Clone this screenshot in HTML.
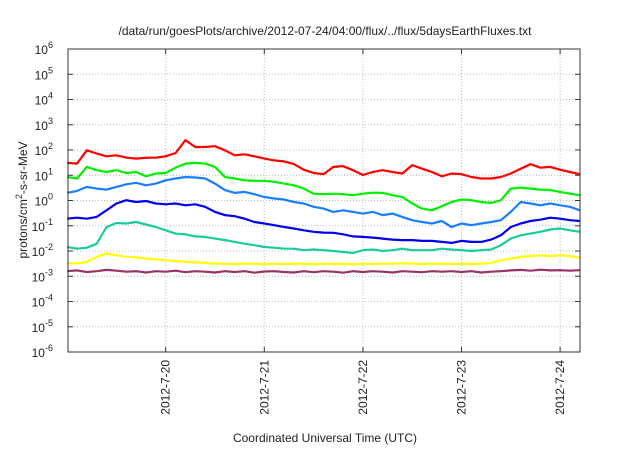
<!DOCTYPE html>
<html><head><meta charset="utf-8"><style>
body{margin:0;background:#fff}
svg text{font-family:"Liberation Sans",sans-serif;fill:#222}
</style></head><body>
<svg id="chart" width="640" height="448" viewBox="0 0 640 448" xmlns="http://www.w3.org/2000/svg">
<rect width="640" height="448" fill="#fff"/>
<text x="325" y="35" font-size="12" text-anchor="middle">/data/run/goesPlots/archive/2012-07-24/04:00/flux/../flux/5daysEarthFluxes.txt</text>
<text transform="translate(27,200) rotate(-90)" font-size="12" text-anchor="middle">protons/cm<tspan dy="-5" font-size="9">2</tspan><tspan dy="5">-s-sr-MeV</tspan></text>
<text x="325" y="442" font-size="12" text-anchor="middle">Coordinated Universal Time (UTC)</text>
<g id="grid"></g><g id="series"></g><g id="axes"></g>
</svg>
<script>
const times=[];for(let i=0;i<=52;i++)times.push(i/10);
const yExps=[-6,-5,-4,-3,-2,-1,0,1,2,3,4,5,6];
const dayTicks=[1,2,3,4,5];
const dayLabels=["2012-7-20","2012-7-21","2012-7-22","2012-7-23","2012-7-24"];
const seriesNames=["red","green","lightblue","blue","teal","yellow","purple"];
const seriesColors=["#ff0000","#00f000","#1a7fff","#0000ee","#19cc9c","#ffff00","#993366"];
const red=[1.49,1.46,1.99,1.86,1.75,1.79,1.70,1.66,1.69,1.70,1.75,1.88,2.39,2.12,2.12,2.15,1.99,1.79,1.83,1.75,1.66,1.59,1.55,1.44,1.22,1.09,1.04,1.33,1.36,1.20,1.01,1.13,1.20,1.13,1.07,1.40,1.26,1.13,0.96,1.07,1.04,0.93,0.87,0.87,0.93,1.07,1.26,1.44,1.30,1.33,1.22,1.13,1.04];
const green=[0.93,0.87,1.33,1.20,1.13,1.20,1.09,1.13,0.96,1.07,1.09,1.30,1.46,1.49,1.46,1.33,0.93,0.87,0.80,0.78,0.78,0.74,0.67,0.60,0.47,0.27,0.25,0.27,0.25,0.21,0.27,0.31,0.30,0.21,0.14,-0.12,-0.32,-0.39,-0.23,-0.06,0.04,0.01,-0.06,-0.10,0.01,0.47,0.51,0.47,0.43,0.41,0.34,0.27,0.21];
const lightblue=[0.30,0.38,0.54,0.47,0.43,0.54,0.64,0.70,0.60,0.67,0.80,0.87,0.93,0.91,0.87,0.67,0.41,0.30,0.34,0.25,0.14,0.08,0.04,-0.06,-0.12,-0.25,-0.32,-0.45,-0.39,-0.45,-0.52,-0.45,-0.58,-0.52,-0.65,-0.78,-0.85,-0.91,-0.81,-1.05,-0.91,-0.98,-0.91,-0.85,-0.78,-0.45,-0.06,-0.12,-0.19,-0.12,-0.19,-0.25,-0.39];
const blue=[-0.72,-0.68,-0.72,-0.65,-0.39,-0.12,0.01,-0.06,-0.02,-0.12,-0.15,-0.12,-0.19,-0.15,-0.25,-0.45,-0.58,-0.62,-0.72,-0.85,-0.91,-0.98,-1.05,-1.11,-1.18,-1.24,-1.27,-1.28,-1.34,-1.42,-1.44,-1.47,-1.51,-1.55,-1.57,-1.57,-1.60,-1.60,-1.64,-1.68,-1.60,-1.64,-1.64,-1.55,-1.38,-1.05,-0.91,-0.81,-0.76,-0.68,-0.72,-0.78,-0.81];
const teal=[-1.84,-1.91,-1.87,-1.71,-1.05,-0.89,-0.91,-0.85,-0.95,-1.05,-1.18,-1.31,-1.34,-1.42,-1.44,-1.51,-1.57,-1.64,-1.71,-1.77,-1.84,-1.87,-1.91,-1.91,-1.97,-1.94,-1.97,-2.00,-2.04,-2.08,-1.97,-1.94,-2.00,-1.97,-1.91,-1.97,-1.97,-1.97,-1.91,-1.94,-1.97,-2.00,-1.97,-1.94,-1.77,-1.51,-1.38,-1.31,-1.24,-1.15,-1.11,-1.18,-1.24];
const yellow=[-2.47,-2.50,-2.43,-2.23,-2.10,-2.17,-2.23,-2.25,-2.30,-2.33,-2.37,-2.40,-2.43,-2.45,-2.47,-2.50,-2.50,-2.52,-2.50,-2.50,-2.53,-2.50,-2.52,-2.50,-2.50,-2.53,-2.50,-2.52,-2.50,-2.53,-2.50,-2.52,-2.50,-2.50,-2.48,-2.50,-2.52,-2.50,-2.50,-2.52,-2.50,-2.52,-2.50,-2.48,-2.37,-2.30,-2.23,-2.20,-2.17,-2.20,-2.17,-2.20,-2.27];
const purple=[-2.80,-2.77,-2.83,-2.80,-2.75,-2.78,-2.82,-2.80,-2.85,-2.80,-2.82,-2.78,-2.84,-2.80,-2.82,-2.85,-2.80,-2.83,-2.80,-2.86,-2.81,-2.80,-2.83,-2.85,-2.80,-2.84,-2.80,-2.82,-2.86,-2.80,-2.83,-2.80,-2.82,-2.85,-2.80,-2.82,-2.84,-2.80,-2.82,-2.80,-2.83,-2.80,-2.85,-2.82,-2.80,-2.77,-2.75,-2.78,-2.74,-2.77,-2.76,-2.78,-2.76];
const allSeries=[red,green,lightblue,blue,teal,yellow,purple];

const L=68,R=580,T=49,B=352,X0=67.1,PXD=98.6;
const xs=d=>X0+PXD*d;
const ys=v=>B-(v+6)*(B-T)/12;
const NS="http://www.w3.org/2000/svg";
function mk(tag,attrs,parent){const e=document.createElementNS(NS,tag);for(const k in attrs)e.setAttribute(k,attrs[k]);parent.appendChild(e);return e;}
const grid=document.getElementById('grid'),ser=document.getElementById('series'),axes=document.getElementById('axes');
yExps.forEach(e=>{const y=ys(e);
 if(e>-6&&e<6){const g=mk('line',{x1:L,x2:R,y1:y,y2:y,stroke:'#bbb','stroke-dasharray':'1,2','stroke-width':1},grid);
 
 
 mk('line',{x1:L,x2:L+5,y1:y,y2:y,stroke:'#333'},axes);mk('line',{x1:R-5,x2:R,y1:y,y2:y,stroke:'#333'},axes);}
 const t=mk('text',{x:L-15,y:y+5,'font-size':12,'text-anchor':'end'},axes);
 
 
 t.textContent='10';const s=mk('tspan',{dy:-6,'font-size':9},t);s.textContent=String(e);
});
dayTicks.forEach((d,i)=>{const x=xs(d);
 const g=mk('line',{x1:x,x2:x,y1:T,y2:B,stroke:'#bbb','stroke-dasharray':'1,2','stroke-width':1},grid);
 
 
 mk('line',{x1:x,x2:x,y1:B-5,y2:B,stroke:'#333'},axes);mk('line',{x1:x,x2:x,y1:T,y2:T+5,stroke:'#333'},axes);
 const t=mk('text',{transform:`translate(${x+4},${B+8}) rotate(-90)`,'font-size':12,'text-anchor':'end'},axes);
 
 
 t.textContent=dayLabels[i];
});
allSeries.forEach((arr,si)=>{
 const pts=arr.map((v,i)=>xs(Math.min(times[i],5.2)).toFixed(1)+','+ys(v).toFixed(1)).join(' ');
 const p=mk('polyline',{points:pts,fill:'none',stroke:seriesColors[si],'stroke-width':2.2,'stroke-linejoin':'round'},ser);
 
 
});
const fr=mk('rect',{x:L,y:T,width:R-L,height:B-T,fill:'none',stroke:'#333','stroke-width':1},axes);


</script>
</body></html>
